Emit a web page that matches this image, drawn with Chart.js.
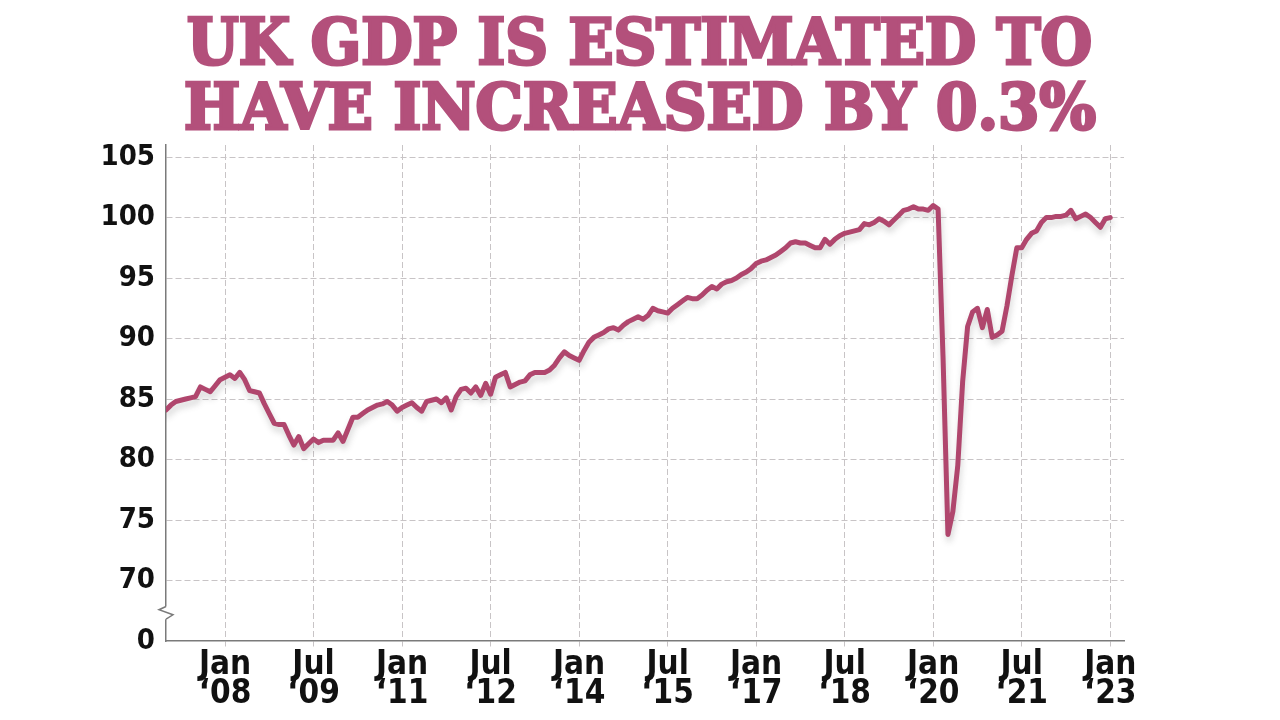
<!DOCTYPE html>
<html>
<head>
<meta charset="utf-8">
<title>UK GDP</title>
<script src="https://cdn.jsdelivr.net/npm/chart.js@4/dist/chart.umd.min.js"></script>
<style>
  html, body { margin: 0; padding: 0; background: #fff; }
  #wrap { position: relative; width: 1280px; height: 720px; overflow: hidden; }
  #chart { position: absolute; left: 0; top: 0; }
  .headline {
    position: absolute; left: 0; top: 9px; width: 1280px;
    text-align: center; color: #b3507b;
    font-family: "DejaVu Serif Condensed", "DejaVu Serif", serif;
    font-weight: bold; font-size: 64px; line-height: 65px;
    -webkit-text-stroke: 3px #b3507b;
  }
  .headline div { height: 65px; }
  .headline span { display: inline-block; white-space: nowrap; transform-origin: center; }
</style>
</head>
<body>
<div id="wrap">
  <canvas id="chart" width="1280" height="720"></canvas>
  <div class="headline">
    <div><span id="line1">UK GDP IS ESTIMATED TO</span></div>
    <div><span id="line2">HAVE INCREASED BY 0.3%</span></div>
  </div>
</div>
<script>
// monthly GDP index, Jan 2007 .. Jan 2023 (one row per year)
const startYear = 2007;
const gdpIndex = [
  84.1, 84.5, 84.8, 84.9, 85.0, 85.1, 85.2, 86.0, 85.8, 85.6, 86.1, 86.6,
  86.8, 87.0, 86.7, 87.2, 86.6, 85.7, 85.6, 85.5, 84.6, 83.8, 83.0, 82.9,
  82.9, 82.0, 81.2, 81.9, 80.9, 81.3, 81.7, 81.4, 81.6, 81.6, 81.6, 82.2,
  81.5, 82.5, 83.5, 83.5, 83.8, 84.1, 84.3, 84.5, 84.6, 84.8, 84.5, 84.0,
  84.3, 84.5, 84.7, 84.3, 84.0, 84.8, 84.9, 85.0, 84.7, 85.1, 84.1, 85.2,
  85.8, 85.9, 85.5, 86.0, 85.3, 86.3, 85.4, 86.8, 87.0, 87.2, 86.0, 86.2,
  86.4, 86.5, 87.0, 87.2, 87.2, 87.2, 87.4, 87.8, 88.4, 88.9, 88.6, 88.4,
  88.2, 89.0, 89.7, 90.1, 90.3, 90.5, 90.8, 90.9, 90.7, 91.1, 91.4, 91.6,
  91.8, 91.6, 91.9, 92.5, 92.3, 92.2, 92.1, 92.5, 92.8, 93.1, 93.4, 93.3,
  93.3, 93.6, 94.0, 94.3, 94.1, 94.5, 94.7, 94.8, 95.0, 95.3, 95.5, 95.8,
  96.2, 96.4, 96.5, 96.7, 96.9, 97.2, 97.5, 97.9, 98.0, 97.9, 97.9, 97.7,
  97.5, 97.5, 98.2, 97.8, 98.2, 98.5, 98.7, 98.8, 98.9, 99.0, 99.5, 99.4,
  99.6, 99.9, 99.7, 99.4, 99.8, 100.2, 100.6, 100.7, 100.9, 100.7, 100.7, 100.6,
  101.0, 100.7, 88.5, 73.8, 75.7, 79.5, 86.5, 91.0, 92.2, 92.5, 90.9, 92.4,
  90.1, 90.3, 90.6, 92.7, 95.2, 97.5, 97.5, 98.2, 98.7, 98.9, 99.6, 100.0,
  100.0, 100.1, 100.1, 100.2, 100.6, 99.9, 100.1, 100.3, 100.0, 99.6, 99.2, 99.9,
  100.0
];

// x ticks: months since Jan 2007
const xTickMonths = [12, 30, 48, 66, 84, 102, 120, 138, 156, 174, 192];
const xTickLabels = ["Jan ‘08", "Jul ‘09", "Jan ‘11", "Jul ‘12", "Jan ‘14", "Jul ‘15",
                     "Jan ‘17", "Jul ‘18", "Jan ‘20", "Jul ‘21", "Jan ‘23"];

// y axis is broken: the bottom tick stands for 0
const yTickValues = [65, 70, 75, 80, 85, 90, 95, 100, 105];
const yTickLabels = ["0", "70", "75", "80", "85", "90", "95", "100", "105"];

const lineColour = "#b0466d";
const gridColour = "#c8c4c6";
const axisColour = "#7a7a7a";
const labelFont = "'Liberation Sans Narrow', 'DejaVu Sans Condensed', 'Roboto', sans-serif";

// fit the headline lines to the reference width
function fitLine(id, target) {
    const el = document.getElementById(id);
    const w = el.getBoundingClientRect().width;
    el.style.transform = "scaleX(" + (target / w) + ")";
}
fitLine("line1", 905);
fitLine("line2", 912);

// soft drop shadow under the line
const lineShadow = {
    id: "lineShadow",
    beforeDatasetsDraw(chart) {
        const c = chart.ctx;
        c.save();
        c.shadowColor = "rgba(70,70,70,0.22)";
        c.shadowBlur = 6;
        c.shadowOffsetX = 1;
        c.shadowOffsetY = 5;
    },
    afterDatasetsDraw(chart) {
        chart.ctx.restore();
    }
};

// zigzag break on the y axis between 0 and 70
const axisBreak = {
    id: "axisBreak",
    afterDraw(chart) {
        const c = chart.ctx;
        const y = chart.scales.y;
        const x0 = chart.chartArea.left;
        const top = y.getPixelForValue(67.85);
        const bot = y.getPixelForValue(66.8);
        const h = bot - top;
        c.save();
        c.fillStyle = "#fff";
        c.fillRect(x0 - 2, top, 4, h);
        c.strokeStyle = axisColour;
        c.lineWidth = 1.5;
        c.beginPath();
        c.moveTo(x0, top);
        c.lineTo(x0 - 7, top + h * 0.25);
        c.lineTo(x0 + 7, top + h * 0.65);
        c.lineTo(x0, bot);
        c.stroke();
        c.restore();
    }
};

const ctx = document.getElementById("chart").getContext("2d");

new Chart(ctx, {
    type: "line",
    data: {
        datasets: [{
            label: "GDP",
            data: gdpIndex.map((v, i) => ({ x: i, y: v })),
            borderColor: lineColour,
            borderWidth: 5,
            borderJoinStyle: "round",
            borderCapStyle: "round",
            pointRadius: 0,
            tension: 0,
            fill: false
        }]
    },
    options: {
        responsive: false,
        animation: false,
        layout: { padding: { top: 145, right: 156, left: 0, bottom: 0 } },
        plugins: {
            legend: { display: false },
            tooltip: { enabled: false }
        },
        scales: {
            x: {
                type: "linear",
                min: 0,
                max: 194.8,
                afterBuildTicks: axis => { axis.ticks = xTickMonths.map(v => ({ value: v })); },
                afterFit: scale => { scale.height = 79; },
                ticks: {
                    autoSkip: false,
                    maxRotation: 0,
                    padding: 3,
                    color: "#111",
                    font: { family: labelFont, size: 33, weight: "bold", lineHeight: 0.88 },
                    callback: (value, index) => xTickLabels[index].split(" ")
                },
                grid: {
                    color: gridColour,
                    lineWidth: 1,
                    tickLength: 7,
                    tickColor: gridColour,
                    tickBorderDash: [5, 3]
                },
                border: { display: true, color: axisColour, width: 1.5, dash: [6, 3] }
            },
            y: {
                min: 65,
                max: 106,
                afterBuildTicks: axis => { axis.ticks = yTickValues.map(v => ({ value: v })); },
                afterFit: scale => { scale.width = 166; },
                ticks: {
                    padding: 11,
                    color: "#111",
                    font: { family: labelFont, size: 29, weight: "bold" },
                    callback: (value, index) => yTickLabels[index]
                },
                grid: {
                    color: c => (c.tick && c.tick.value === 65) ? "rgba(0,0,0,0)" : gridColour,
                    lineWidth: 1,
                    drawTicks: false
                },
                border: { display: true, color: axisColour, width: 1.5, dash: [6, 3] }
            }
        }
    },
    plugins: [lineShadow, axisBreak]
});
</script>
</body>
</html>
